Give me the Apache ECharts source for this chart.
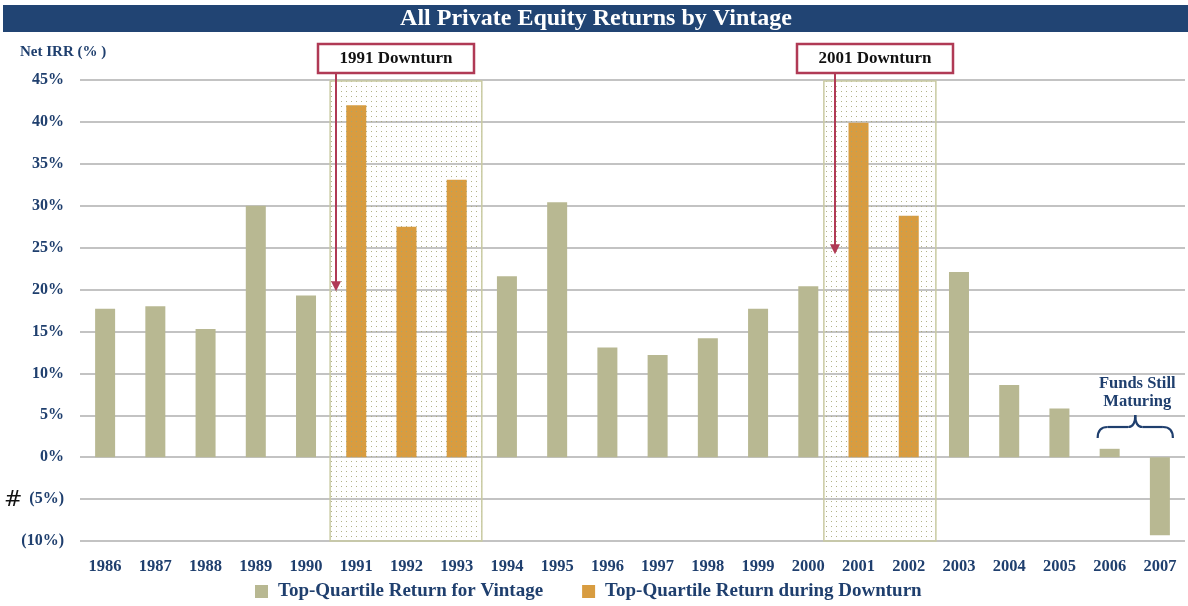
<!DOCTYPE html>
<html><head><meta charset="utf-8">
<script src="https://cdn.jsdelivr.net/npm/echarts@6/dist/echarts.min.js"></script>
<style>html,body{margin:0;padding:0;background:#fff}#c{width:1188px;height:606px}</style>
</head><body><div id="c"></div>
<script>
const categories = ['1986','1987','1988','1989','1990','1991','1992','1993','1994','1995','1996','1997','1998','1999','2000','2001','2002','2003','2004','2005','2006','2007'];
const vintageReturns = [17.7,18.0,15.3,30.0,19.3,null,null,null,21.6,30.4,13.1,12.2,14.2,17.7,20.4,null,null,22.1,8.6,5.8,1.0,-9.3];
const downturnReturns = [null,null,null,null,null,42.0,27.5,33.1,null,null,null,null,null,null,null,39.9,28.8,null,null,null,null,null];
const yTicks = {'45':'45%','40':'40%','35':'35%','30':'30%','25':'25%','20':'20%','15':'15%','10':'10%','5':'5%','0':'0%','-5':'(5%)','-10':'(10%)'};

const NAVY = '#1f3f6e';
const SERIF = '"Liberation Serif","DejaVu Serif",serif';
const chart = echarts.init(document.getElementById('c'));

const dotCanvas = document.createElement('canvas');
dotCanvas.width = 5; dotCanvas.height = 5;
const dctx = dotCanvas.getContext('2d');
dctx.fillStyle = 'rgba(165,165,115,0.85)';
dctx.fillRect(1,1,1,1);

chart.setOption({
  animation: false,
  grid: {left: 80, right: 3, top: 80, bottom: 65, containLabel: false},
  xAxis: {
    type: 'category', data: categories,
    axisLine: {show: false}, axisTick: {show: false},
    axisLabel: {color: NAVY, fontFamily: SERIF, fontWeight: 'bold', fontSize: 16.5, margin: 17},
    position: 'bottom'
  },
  yAxis: {
    type: 'value', min: -10, max: 45, interval: 5,
    axisLine: {show: false}, axisTick: {show: false},
    splitLine: {lineStyle: {color: '#c3c3c3', width: 2}},
    axisLabel: {color: NAVY, fontFamily: SERIF, fontWeight: 'bold', fontSize: 16, margin: 16,
      formatter: v => yTicks[String(v)] || ''}
  },
  legend: {
    bottom: 0, left: 250, itemWidth: 13, itemHeight: 13, itemGap: 39,
    icon: 'rect',
    textStyle: {color: NAVY, fontFamily: SERIF, fontWeight: 'bold', fontSize: 19, padding: [0, 0, 0, 5]},
    data: ['Top-Quartile Return for Vintage', 'Top-Quartile Return during Downturn']
  },
  series: [
    {name: 'Top-Quartile Return for Vintage', type: 'bar', data: vintageReturns, barWidth: 20, barGap: '-100%', itemStyle: {color: '#b8b892'}},
    {name: 'Top-Quartile Return during Downturn', type: 'bar', data: downturnReturns, barWidth: 20, itemStyle: {color: '#d89c40'}}
  ]
});

function px(cat, val) { return chart.convertToPixel({xAxisIndex: 0, yAxisIndex: 0}, [cat, val]); }
const band = px('1987', 0)[0] - px('1986', 0)[0];
const yTop = px('1986', 45)[1] + 1, yBot = px('1986', -10)[1];

function shadeBox(x0, x1) {
  return [
    {type: 'rect', z: 50, shape: {x: x0, y: yTop, width: x1 - x0, height: yBot - yTop},
      style: {fill: {image: dotCanvas, repeat: 'repeat'}, stroke: '#c9caa2', lineWidth: 1.5}}
  ];
}
function callout(text, bx, arrowX, arrowYVal) {
  const tipY = px('1986', arrowYVal)[1];
  return [
    {type: 'rect', z: 60, shape: {x: bx, y: 44, width: 156, height: 29},
      style: {fill: '#fff', stroke: '#b03a55', lineWidth: 2.5}},
    {type: 'text', z: 61, style: {text: text, x: bx + 78, y: 59, align: 'center', verticalAlign: 'middle',
      font: 'bold 17px ' + SERIF, fill: '#111'}},
    {type: 'line', z: 60, shape: {x1: arrowX, y1: 73, x2: arrowX, y2: tipY - 8}, style: {stroke: '#b03a55', lineWidth: 2}},
    {type: 'polygon', z: 60, shape: {points: [[arrowX - 5, tipY - 10], [arrowX + 5, tipY - 10], [arrowX, tipY]]}, style: {fill: '#b03a55'}}
  ];
}

const c1991 = px('1991', 0)[0], c1993 = px('1993', 0)[0];
const c2001 = px('2001', 0)[0], c2002 = px('2002', 0)[0];
const c2006 = px('2006', 0)[0], c2007 = px('2007', 0)[0];
const bl = c2006 - 12, br = c2007 + 13, bm = (bl + br) / 2;
const braceStyle = {fill: 'none', stroke: NAVY, lineWidth: 2.2};
const by = px('1986', 3.6)[1];

const graphics = [
  {type: 'rect', z: 70, shape: {x: 3, y: 5, width: 1185, height: 27}, style: {fill: '#214473'}},
  {type: 'text', z: 71, style: {text: 'All Private Equity Returns by Vintage', x: 596, y: 19, align: 'center', verticalAlign: 'middle',
    font: 'bold 24px ' + SERIF, fill: '#fff'}},
  {type: 'text', z: 71, style: {text: 'Net IRR (% )', x: 20, y: 52, verticalAlign: 'middle', font: 'bold 15px ' + SERIF, fill: NAVY}},
  {type: 'text', z: 71, style: {text: '#', x: 4, y: 500, verticalAlign: 'middle', font: '22px "DejaVu Sans",sans-serif', fill: '#111'}},
  ...shadeBox(c1991 - band * 0.52, c1993 + band * 0.5),
  ...shadeBox(c2001 - band * 0.69, c2002 + band * 0.54),
  ...callout('1991 Downturn', 318, 336, 19.8),
  ...callout('2001 Downturn', 797, 835, 24.2),
  {type: 'text', z: 71, style: {text: 'Funds Still\nMaturing', x: bm + 2, y: 393, align: 'center', verticalAlign: 'middle',
    font: 'bold 16.5px ' + SERIF, fill: NAVY, lineHeight: 18}},
  {type: 'bezierCurve', z: 71, shape: {x1: bl, y1: by + 11, cpx1: bl, cpy1: by, x2: bl + 10, y2: by}, style: braceStyle},
  {type: 'line', z: 71, shape: {x1: bl + 10, y1: by, x2: bm - 7, y2: by}, style: braceStyle},
  {type: 'bezierCurve', z: 71, shape: {x1: bm - 7, y1: by, cpx1: bm, cpy1: by, x2: bm, y2: by - 12}, style: braceStyle},
  {type: 'bezierCurve', z: 71, shape: {x1: bm, y1: by - 12, cpx1: bm, cpy1: by, x2: bm + 7, y2: by}, style: braceStyle},
  {type: 'line', z: 71, shape: {x1: bm + 7, y1: by, x2: br - 10, y2: by}, style: braceStyle},
  {type: 'bezierCurve', z: 71, shape: {x1: br - 10, y1: by, cpx1: br, cpy1: by, x2: br, y2: by + 11}, style: braceStyle}
];
chart.setOption({graphic: graphics});
</script>
</body></html>
